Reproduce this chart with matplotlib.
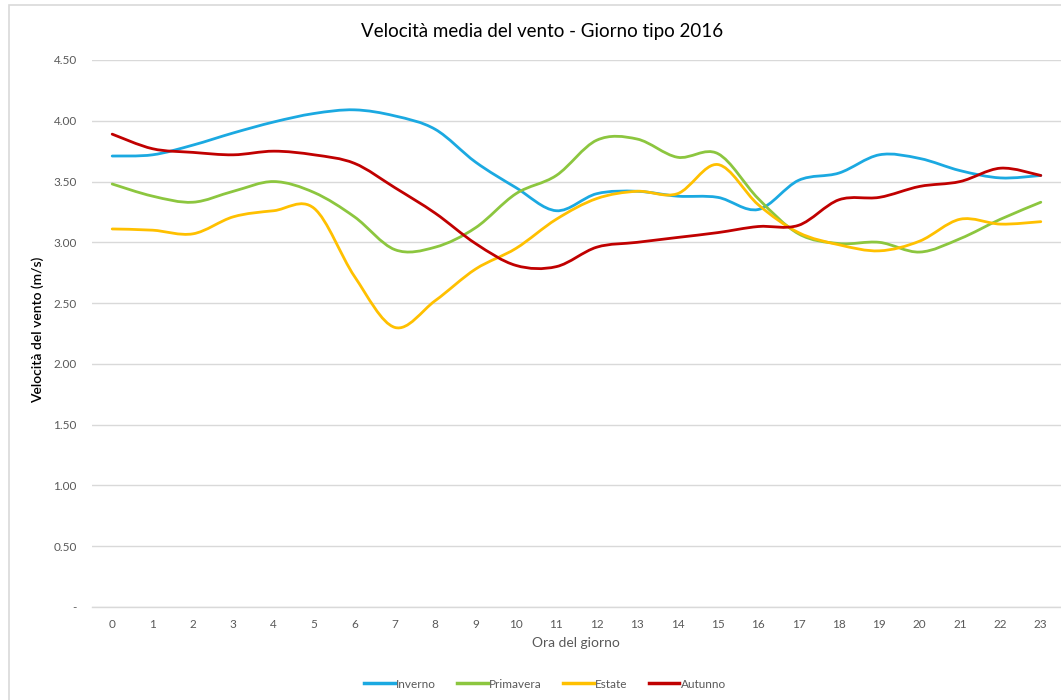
# -*- coding: utf-8 -*-
import numpy as np
import matplotlib
matplotlib.use('Agg')
import matplotlib.pyplot as plt
from matplotlib.path import Path
from matplotlib.patches import PathPatch, Rectangle
from matplotlib.lines import Line2D

plt.rcParams['font.family'] = ['Lato', 'DejaVu Sans']

# Data
hours = list(range(24))
inverno = [3.71, 3.72, 3.80, 3.90, 3.99, 4.06, 4.09, 4.04, 3.93, 3.66, 3.45, 3.26,
           3.40, 3.42, 3.38, 3.37, 3.27, 3.51, 3.57, 3.72, 3.69, 3.59, 3.53, 3.55]
primavera = [3.48, 3.38, 3.33, 3.42, 3.50, 3.41, 3.21, 2.94, 2.96, 3.12, 3.40, 3.55,
             3.84, 3.85, 3.70, 3.73, 3.36, 3.07, 2.99, 3.00, 2.92, 3.03, 3.19, 3.33]
estate = [3.11, 3.10, 3.07, 3.21, 3.26, 3.28, 2.72, 2.30, 2.52, 2.78, 2.95, 3.19,
          3.36, 3.42, 3.40, 3.64, 3.31, 3.08, 2.98, 2.93, 3.01, 3.19, 3.15, 3.17]
autunno = [3.89, 3.77, 3.74, 3.72, 3.75, 3.72, 3.65, 3.45, 3.24, 2.99, 2.81, 2.80,
           2.96, 3.00, 3.04, 3.08, 3.13, 3.14, 3.35, 3.37, 3.46, 3.50, 3.61, 3.55]

series_names = ['Inverno', 'Primavera', 'Estate', 'Autunno']
series_colors = ['#1BA9E1', '#8CC63F', '#FFC000', '#C00000']
yticks = [0, 0.5, 1.0, 1.5, 2.0, 2.5, 3.0, 3.5, 4.0, 4.5]


# Excel-like smoothed line: cubic Bezier segments through the points
def smooth_path(x, y):
    pts = np.column_stack([x, y]).astype(float)
    n = len(pts)
    verts = [pts[0]]
    codes = [Path.MOVETO]
    for i in range(n - 1):
        p0 = pts[max(i - 1, 0)]
        p1 = pts[i]
        p2 = pts[i + 1]
        p3 = pts[min(i + 2, n - 1)]
        c1 = p1 + (p2 - p0) / 6.0
        c2 = p2 - (p3 - p1) / 6.0
        verts += [c1, c2, p2]
        codes += [Path.CURVE4] * 3
    return Path(verts, codes)


W, H = 1061, 700
fig = plt.figure(figsize=(W / 100, H / 100), dpi=100)

# outer chart border
fig.patches.append(Rectangle((9 / W, -0.1), 1.2, 1 - 5 / H + 0.1,
                             transform=fig.transFigure, fill=False,
                             edgecolor='#D9D9D9', linewidth=1.2))

ax = fig.add_axes([92 / W, 93 / H, (W - 92) / W, 547 / H])

for vals, name, col in zip([inverno, primavera, estate, autunno],
                           series_names, series_colors):
    patch = PathPatch(smooth_path(hours, vals), facecolor='none',
                      edgecolor=col, linewidth=2.0, capstyle='round',
                      joinstyle='round', zorder=3)
    ax.add_patch(patch)

ax.set_xlim(-0.5, 23.5)
ax.set_ylim(0, 4.5)
ax.set_xticks(hours)
ax.set_xticklabels([str(h) for h in hours])
ax.set_yticks(yticks)
ax.set_yticklabels(['-' if v == 0 else '%.2f' % v for v in yticks])
ax.tick_params(axis='both', length=0, labelsize=8.5, colors='#595959')
ax.tick_params(axis='x', pad=9)
ax.tick_params(axis='y', pad=11)
ax.grid(axis='y', color='#D9D9D9', linewidth=1.0)
ax.set_axisbelow(True)
for s in ['top', 'right', 'left']:
    ax.spines[s].set_visible(False)
ax.spines['bottom'].set_color('#D9D9D9')
ax.spines['bottom'].set_linewidth(1.0)

fig.text(542 / W, 1 - 31 / H, 'Velocità media del vento - Giorno tipo 2016',
         ha='center', va='center', fontsize=13.5, color='#000000')
fig.text(576 / W, 1 - 643 / H, 'Ora del giorno', ha='center', va='center',
         fontsize=10, color='#595959')
fig.text(38 / W, 1 - 330 / H, 'Velocità del vento (m/s)', ha='center',
         va='center', rotation=90, fontsize=10, color='#000000',
         fontweight='semibold')

handles = [Line2D([], [], color=c, linewidth=2.5) for c in series_colors]
fig.legend(handles, series_names, loc='center', ncol=4,
           bbox_to_anchor=(545 / W, 1 - 684 / H), frameon=False,
           fontsize=8.5, handlelength=2.6, handletextpad=0.1,
           columnspacing=1.8, labelcolor='#595959')

fig.savefig('out.png', dpi=100)
